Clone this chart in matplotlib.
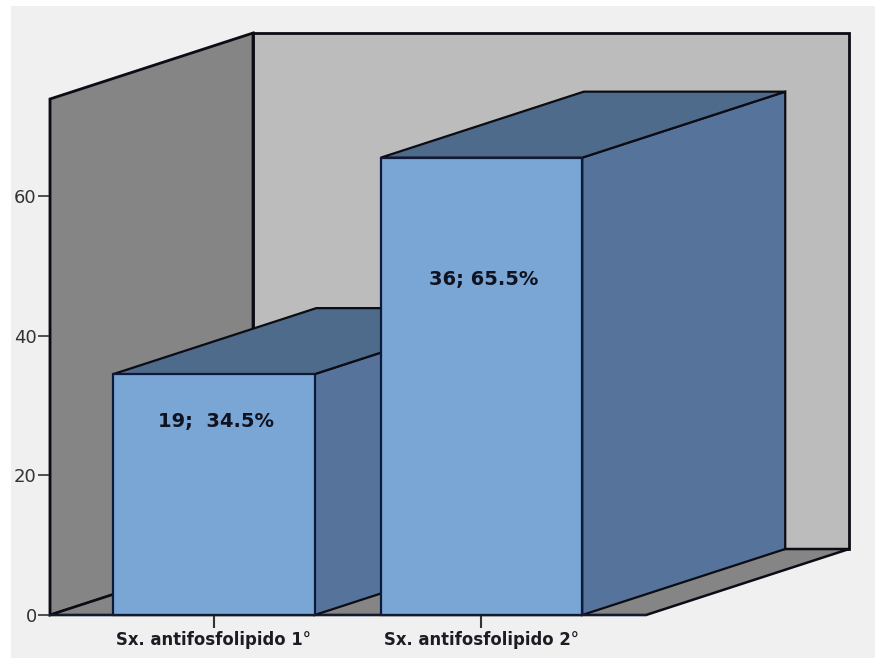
import matplotlib
matplotlib.use("Agg")
import matplotlib.pyplot as plt
from matplotlib.patches import Polygon, Rectangle

categories = ["Sx. antifosfolipido 1°", "Sx. antifosfolipido 2°"]
percentages = [34.5, 65.5]
value_labels = ["19;  34.5%", "36; 65.5%"]
y_ticks = [0, 20, 40, 60]

W, H = 875, 658
BAR_WIDTH = 0.753
DEPTH_X = 0.759   # oblique depth, category units
DEPTH_Y = 9.45    # oblique depth, percent units
WALL_TOP = 73.9
EDGE = "#0c0c14"
BAR_EDGE = "#0e1a3a"
LABEL_DROP = [6.75, 17.4]   # distance of each value label below its bar top

fig = plt.figure(figsize=(W / 100, H / 100), dpi=100, facecolor="white")
fig.add_artist(Rectangle((11 / W, 0), 1 - 11 / W, 1 - 6 / H,
                         transform=fig.transFigure, fc="#f0f0f0", ec="none", zorder=-5))

ax = fig.add_axes([50 / W, 1 - 615 / H, 596 / W, 516 / H])
ax.patch.set_visible(False)
ax.set_xlim(-0.613, 1.615)
ax.set_ylim(0, WALL_TOP)
for side in ("top", "right"):
    ax.spines[side].set_visible(False)
ax.spines["left"].set_linewidth(1.5)
ax.spines["bottom"].set_linewidth(1.5)
ax.spines["left"].set_color(EDGE)
ax.spines["bottom"].set_color("#141a30")
ax.spines["left"].set_zorder(6)
ax.spines["bottom"].set_zorder(6)

x0, x1 = ax.get_xlim()


def face(points, color, edge=EDGE, lw=1.6, z=1):
    ax.add_patch(Polygon(points, closed=True, fc=color, ec=edge, lw=lw,
                         zorder=z, clip_on=False, joinstyle="miter"))


# back wall, side wall and floor of the box
face([(x0 + DEPTH_X, DEPTH_Y), (x1 + DEPTH_X, DEPTH_Y),
      (x1 + DEPTH_X, WALL_TOP + DEPTH_Y), (x0 + DEPTH_X, WALL_TOP + DEPTH_Y)], "#bcbcbc", lw=2.0)
face([(x0, 0), (x0 + DEPTH_X, DEPTH_Y), (x0 + DEPTH_X, WALL_TOP + DEPTH_Y), (x0, WALL_TOP)],
     "#858585", lw=2.0)
face([(x0, 0), (x1, 0), (x1 + DEPTH_X, DEPTH_Y), (x0 + DEPTH_X, DEPTH_Y)], "#858585", lw=1.8)

# oblique bars, drawn left to right so the nearer one covers the other
for i, (cat, val, lab) in enumerate(zip(categories, percentages, value_labels)):
    left, right = i - BAR_WIDTH / 2, i + BAR_WIDTH / 2
    z = 2 + i * 2
    face([(right, 0), (right + DEPTH_X, DEPTH_Y), (right + DEPTH_X, val + DEPTH_Y), (right, val)],
         "#55739b", z=z)
    face([(left, val), (right, val), (right + DEPTH_X, val + DEPTH_Y), (left + DEPTH_X, val + DEPTH_Y)],
         "#4f6b8b", z=z)
    ax.bar(i, val, width=BAR_WIDTH, color="#7aa6d6", edgecolor=BAR_EDGE, linewidth=1.6,
           zorder=z + 1, clip_on=False)
    ax.text(i + 0.008, val - LABEL_DROP[i], lab, ha="center", va="center", fontsize=14,
            fontweight="bold", color="#10131f", zorder=10)

ax.set_yticks(y_ticks)
ax.set_xticks(range(len(categories)))
ax.set_xticklabels(categories, fontsize=11.9, fontweight="bold", color="#1c1c24")
ax.tick_params(axis="y", length=8.6, width=1.2, color="#333333", labelsize=13,
               labelcolor="#333333", pad=1)
ax.tick_params(axis="x", length=9.5, width=1.5, color="#333333", pad=2)

fig.savefig("out.png", dpi=100, facecolor=fig.get_facecolor())
